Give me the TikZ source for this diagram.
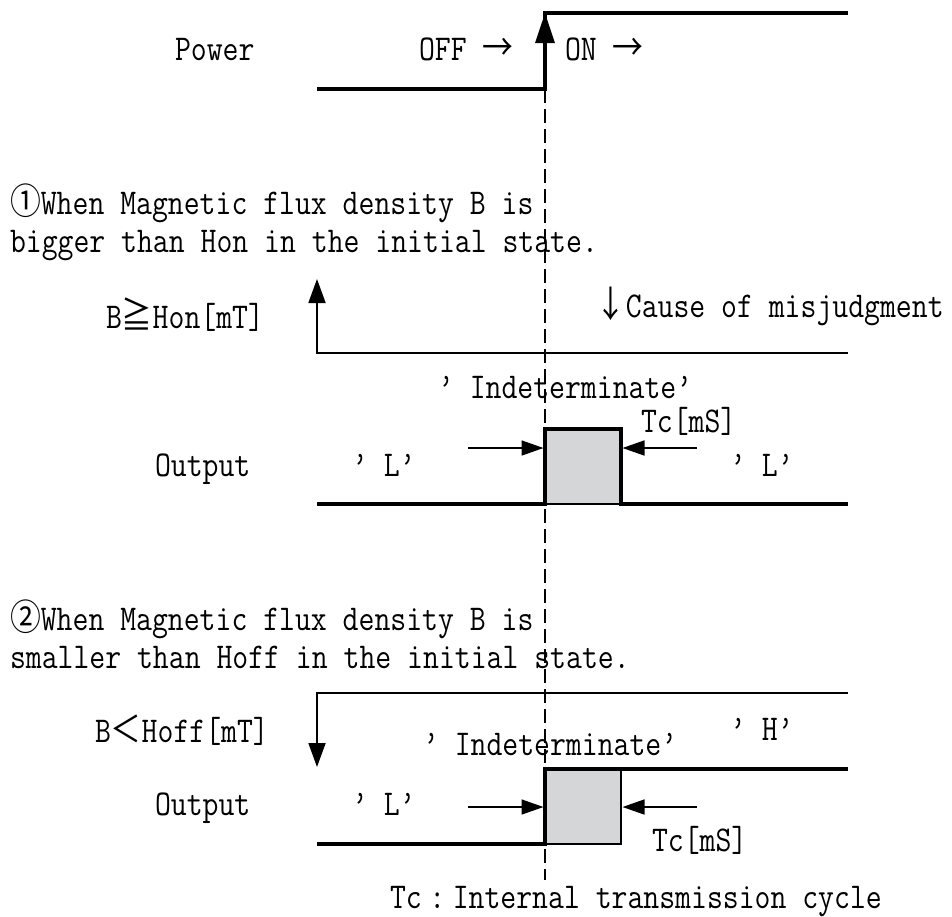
\documentclass[tikz,border=0pt]{standalone}
\usepackage{fontspec}
\setmonofont[FakeStretch=0.85]{Latin Modern Mono}
\newfontfamily\cjkfont[FakeStretch=0.85]{Noto Sans CJK SC}
\usetikzlibrary{arrows.meta}
\definecolor{boxgray}{RGB}{213,214,216}
\newcommand{\mytt}{\ttfamily\fontsize{36.3pt}{42pt}\selectfont}
\begin{document}
\begin{tikzpicture}[x=1pt,y=-1pt,
  txt/.style={anchor=base west, inner sep=0pt, outer sep=0pt, font=\mytt},
  sig/.style={line width=3.2pt, line join=miter, line cap=butt},
  thinln/.style={line width=1.8pt},
  dimarrow/.style={line width=1.6pt, -{Triangle[length=22pt,width=15pt]}},
  vref/.style={line width=1.4pt, dash pattern=on 14pt off 6pt},
  shade/.style={fill=boxgray, draw=black, line width=1.7pt}]
\useasboundingbox (0,0) rectangle (952,916);

% ---------- coordinates ----------
\coordinate (p0) at (317,89);
\coordinate (p1) at (545,89);
\coordinate (p2) at (545,13);
\coordinate (p3) at (848,13);
\coordinate (d0) at (545,89);
\coordinate (d1) at (545,880);

\coordinate (b1tip) at (317,279);
\coordinate (b1a) at (317,353);
\coordinate (b1e) at (848,353);

\coordinate (b2e) at (848,693);
\coordinate (b2a) at (317,693);
\coordinate (b2tip) at (317,767);

\coordinate (o1a) at (317,504);
\coordinate (o1b) at (545,504);
\coordinate (o1c) at (545,429);
\coordinate (o1d) at (621,429);
\coordinate (o1e) at (621,504);
\coordinate (o1f) at (848,504);

\coordinate (o2a) at (317,844);
\coordinate (o2b) at (545,844);
\coordinate (o2c) at (545,769);
\coordinate (o2d) at (621,769);
\coordinate (o2f) at (848,769);

\coordinate (a1s) at (468,448);
\coordinate (a1t) at (543.5,448);
\coordinate (a2s) at (697,448);
\coordinate (a2t) at (622.5,448);
\coordinate (a3s) at (468,807);
\coordinate (a3t) at (543.5,807);
\coordinate (a4s) at (697,807);
\coordinate (a4t) at (622.5,807);

% ---------- reference dashed line ----------
\draw[vref] (d0) -- (d1);

% ---------- power ----------
\draw[sig] (p0) -- (p1) -- (p2) -- (p3);
\draw[sig, -{Triangle[length=30pt,width=19pt]}] (p1) -- (p2);

% ---------- case 1 ----------
\draw[thinln, {Triangle[length=24pt,width=17pt]}-] (b1tip) -- (b1a) -- (b1e);
\draw[shade] (o1c) rectangle (o1e);
\draw[sig] (o1a) -- (o1b) -- (o1c) -- (o1d) -- (o1e) -- (o1f);
\draw[dimarrow] (a1s) -- (a1t);
\draw[dimarrow] (a2s) -- (a2t);

% ---------- case 2 ----------
\draw[thinln, -{Triangle[length=24pt,width=17pt]}] (b2e) -- (b2a) -- (b2tip);
\draw[shade] (o2c) rectangle (o2b -| o2d);
\draw[sig] (o2a) -- (o2b) -- (o2c) -- (o2f);
\draw[dimarrow] (a3s) -- (a3t);
\draw[dimarrow] (a4s) -- (a4t);

% ---------- texts ----------
\node[txt] (power) at (175,60) {Power};
\node[txt] (off) at (419,60) {OFF {\cjkfont →}};
\node[txt] (on) at (565,60) {ON {\cjkfont →}};

\node[txt] (c1l1) at (10,214) {{\cjkfont ①}When Magnetic flux density B is};
\node[txt] (c1l2) at (10,252) {bigger than Hon in the initial state.};
\node[txt] (bhon) at (106,328) {B{\cjkfont ≧}Hon[mT]};
\node[txt] (cause) at (595,317) {{\cjkfont ↓}Cause of misjudgment};
\node[txt] (ind1) at (438,398) {’ Indeterminate’};
\node[txt] (tc1) at (641,432) {Tc[mS]};
\node[txt] (out1) at (155,476) {Output};
\node[txt] (l1a) at (352,476) {’ L’};
\node[txt] (l1b) at (730,476) {’ L’};

\node[txt] (c2l1) at (10,630) {{\cjkfont ②}When Magnetic flux density B is};
\node[txt] (c2l2) at (10,668) {smaller than Hoff in the initial state.};
\node[txt] (bhoff) at (95,742) {B{\cjkfont ＜}Hoff[mT]};
\node[txt] (h2) at (730,740) {’ H’};
\node[txt] (ind2) at (423,755) {’ Indeterminate’};
\node[txt] (out2) at (155,815) {Output};
\node[txt] (l2a) at (352,815) {’ L’};
\node[txt] (tc2) at (652,851) {Tc[mS]};

\node[txt] (note) at (390,908) {Tc\makebox[31pt]{:}Internal transmission cycle};
\end{tikzpicture}
\end{document}
